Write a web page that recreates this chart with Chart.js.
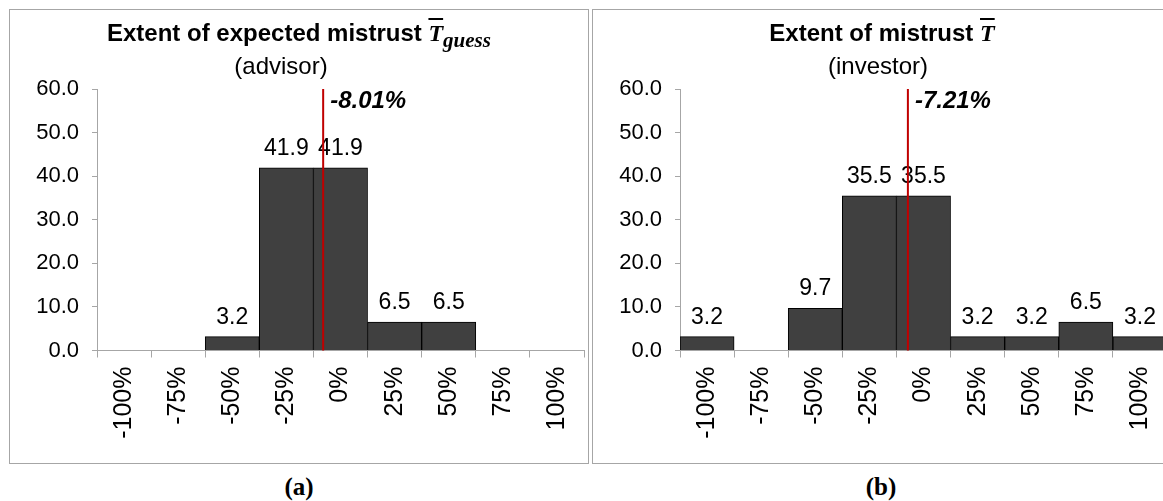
<!DOCTYPE html>
<html>
<head>
<meta charset="utf-8">
<script src="https://cdn.jsdelivr.net/npm/chart.js@4.4.1/dist/chart.umd.min.js"></script>
<style>
html, body { margin: 0; padding: 0; background: #fff; overflow: hidden; }
body { width: 1163px; height: 501px; position: relative; font-family: "Liberation Sans", Arial, sans-serif; }
.panel { position: absolute; top: 9px; width: 578px; height: 453px; border: 1px solid #a6a6a6; }
#panelA { left: 9px; }
#panelB { left: 592px; }
.panel canvas { position: absolute; left: 0; top: 0; }
.title { position: absolute; left: 0; width: 100%; text-align: center; color: #000; white-space: nowrap; }
.t1 { top: 9px; font-weight: bold; font-size: 24px; }
.t2 { top: 42px; font-size: 24px; }
#panelA .t2 { left: -18px; }
#panelB .t2 { left: -4px; }
.math { font-family: "Liberation Serif", serif; font-style: italic; font-weight: bold; }
.over { text-decoration: overline; }
.math sub { font-size: 21px; vertical-align: -6px; line-height: 0; }
.caption { position: absolute; top: 473px; width: 200px; text-align: center; font-family: "Liberation Serif", serif; font-weight: bold; font-size: 25px; }
</style>
</head>
<body>

<div class="panel" id="panelA">
    <canvas id="chartA" width="578" height="453"></canvas>
    <div class="title t1">Extent of expected mistrust <span class="math"><span class="over">T</span><sub>guess</sub></span></div>
    <div class="title t2">(advisor)</div>
</div>

<div class="panel" id="panelB">
    <canvas id="chartB" width="578" height="453"></canvas>
    <div class="title t1">Extent of mistrust <span class="math"><span class="over">T</span></span></div>
    <div class="title t2">(investor)</div>
</div>

<div class="caption" style="left:199px">(a)</div>
<div class="caption" style="left:781px">(b)</div>

<script>
// Data (share of participants in %, per bin of mistrust)
const binLabels = ['-100%', '-75%', '-50%', '-25%', '0%', '25%', '50%', '75%', '100%'];
const advisorShares = [0, 0, 3.2, 41.9, 41.9, 6.5, 6.5, 0, 0];
const investorShares = [3.2, 0, 9.7, 35.5, 35.5, 3.2, 3.2, 6.5, 3.2];
const advisorMean = -8.01;
const investorMean = -7.21;
const binStep = 25;
const yMax = 60;
const yStep = 10;

const FONT = '"Liberation Sans", Arial, sans-serif';
const AXIS_GREY = '#a6a6a6';

// values above bars
const barLabels = {
    id: 'barLabels',
    afterDatasetsDraw(chart) {
        const ctx = chart.ctx;
        const meta = chart.getDatasetMeta(0);
        const values = chart.data.datasets[0].data;
        ctx.save();
        ctx.font = '23px ' + FONT;
        ctx.fillStyle = '#000';
        ctx.textAlign = 'center';
        ctx.textBaseline = 'alphabetic';
        meta.data.forEach((bar, i) => {
            if (values[i] > 0) {
                ctx.fillText(values[i].toFixed(1), bar.x, bar.y - 13);
            }
        });
        ctx.restore();
    }
};

// red line at the mean, placed through the category scale
const meanLine = {
    id: 'meanLine',
    afterDraw(chart, args, opts) {
        const xs = chart.scales.x;
        const ys = chart.scales.y;
        const zeroIdx = binLabels.indexOf('0%');
        const x = xs.getPixelForValue(zeroIdx + opts.value / binStep);
        const ctx = chart.ctx;
        ctx.save();
        ctx.strokeStyle = '#c00000';
        ctx.lineWidth = 2;
        ctx.beginPath();
        ctx.moveTo(x, ys.getPixelForValue(yMax));
        ctx.lineTo(x, ys.getPixelForValue(0));
        ctx.stroke();
        ctx.font = 'italic bold 24px ' + FONT;
        ctx.fillStyle = '#000';
        ctx.textAlign = 'left';
        ctx.textBaseline = 'alphabetic';
        ctx.fillText(opts.value.toFixed(2) + '%', x + 7, chart.chartArea.top + 19);
        ctx.restore();
    }
};

function makeChart(id, values, mean) {
    const ctx = document.getElementById(id).getContext('2d');
    return new Chart(ctx, {
        type: 'bar',
        data: {
            labels: binLabels,
            datasets: [{
                data: values,
                backgroundColor: '#404040',
                borderColor: '#000',
                borderWidth: 1,
                barPercentage: 1,
                categoryPercentage: 1
            }]
        },
        options: {
            responsive: false,
            animation: false,
            devicePixelRatio: 1,
            layout: { padding: { top: 79, right: 4, left: 0, bottom: 0 } },
            plugins: {
                legend: { display: false },
                tooltip: { enabled: false },
                meanLine: { value: mean }
            },
            scales: {
                x: {
                    grid: { offset: true, drawOnChartArea: false, drawTicks: true, tickLength: 7, color: AXIS_GREY },
                    border: { display: true, color: AXIS_GREY, width: 1 },
                    ticks: {
                        minRotation: 90, maxRotation: 90, autoSkip: false, padding: 9,
                        color: '#000', font: { family: FONT, size: 25 }
                    },
                    afterFit: s => {
                        s.height = 112.5;
                        s.paddingLeft = 0;
                        s.paddingRight = 0;
                    }
                },
                y: {
                    min: 0, max: yMax,
                    grid: { drawOnChartArea: false, drawTicks: true, tickLength: 5, color: AXIS_GREY },
                    border: { display: true, color: AXIS_GREY, width: 1 },
                    ticks: {
                        stepSize: yStep, padding: 13, color: '#000',
                        font: { family: FONT, size: 22 },
                        callback: v => v.toFixed(1)
                    },
                    afterFit: s => { s.width = 87; }
                }
            }
        },
        plugins: [barLabels, meanLine]
    });
}

makeChart('chartA', advisorShares, advisorMean);
makeChart('chartB', investorShares, investorMean);
</script>
</body>
</html>
